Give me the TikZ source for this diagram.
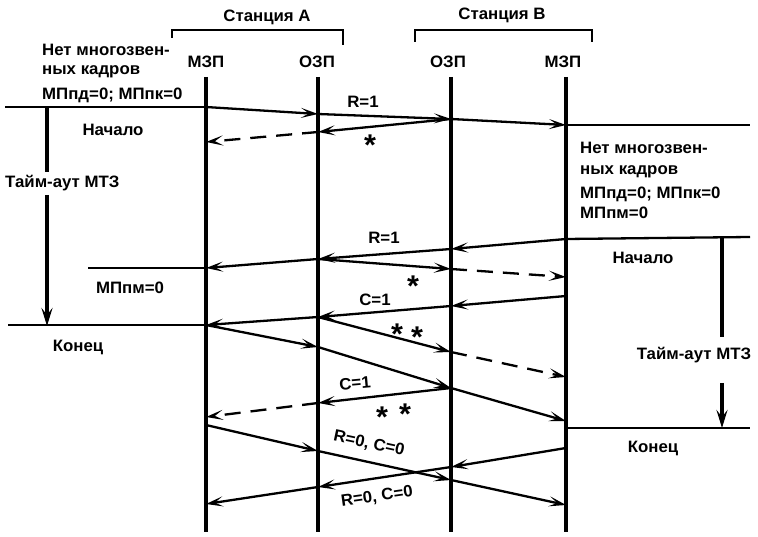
\documentclass[tikz,border=0pt]{standalone}
\usepackage{fontspec}
\setmainfont{Liberation Sans}[FakeStretch=1.02]
\usetikzlibrary{arrows.meta}
\tikzstyle{lane}=[black, line width=3.4pt]
\tikzstyle{wire}=[black, line width=2.3pt]
\tikzstyle{msg}=[wire, -{Stealth[length=17pt,width=10pt,inset=8pt]}]
\tikzstyle{lost}=[msg, dash pattern=on 16pt off 10pt]
\tikzstyle{lbl}=[font=\fontsize{16.5}{19}\selectfont\bfseries]
\tikzstyle{txt}=[lbl, anchor=west]
\tikzstyle{star}=[font=\fontsize{30}{30}\selectfont\bfseries]

\begin{document}
\begin{tikzpicture}[x=1pt,y=-1pt]
\tikzstyle{every node}+=[inner sep=0pt]
\fill [white] (0,0) rectangle (758,537);

\node [lbl] (stA) at (267,17) {Станция A};
\node [lbl] (stB) at (502,15) {Станция B};
\draw [wire] (172,38) -- (172,30) -- (343,30) -- (343,45);
\draw [wire] (415,42) -- (415,30) -- (592,30) -- (592,42);

\node [lbl] (aMzp) at (206,62) {МЗП};
\node [lbl] (aOzp) at (317,62) {ОЗП};
\node [lbl] (bOzp) at (448,62) {ОЗП};
\node [lbl] (bMzp) at (563,62) {МЗП};
\coordinate (aMt) at (206,77);
\coordinate (aMb) at (206,532);
\coordinate (aOt) at (318,77);
\coordinate (aOb) at (318,532);
\coordinate (bOt) at (451,77);
\coordinate (bOb) at (451,532);
\coordinate (bMt) at (566,77);
\coordinate (bMb) at (566,532);
\draw [lane] (aMt) -- (aMb);
\draw [lane] (aOt) -- (aOb);
\draw [lane] (bOt) -- (bOb);
\draw [lane] (bMt) -- (bMb);

\node [txt] (nl1) at (42,50) {Нет многозвен-};
\node [txt] (nl2) at (42,72) {ных кадров};
\node [txt] (nl3) at (42,95) {МПпд=0; МПпк=0};
\node [lbl] (lbeg) at (113,130) {Начало};
\node [txt] (ltmo) at (5,183) {Тайм-аут МТЗ};
\node [lbl] (lpm) at (130,288) {МПпм=0};
\node [lbl] (lend) at (78,347) {Конец};

\node [txt] (nr1) at (580,148) {Нет многозвен-};
\node [txt] (nr2) at (580,172) {ных кадров};
\node [txt] (nr3) at (580,194) {МПпд=0; МПпк=0};
\node [txt] (nr4) at (580,213) {МПпм=0};
\node [lbl] (rbeg) at (643,258) {Начало};
\node [lbl] (rtmo) at (694,355) {Тайм-аут МТЗ};
\node [lbl] (rend) at (653,448) {Конец};

\coordinate (lt0) at (47,107);
\coordinate (lt1) at (47,172);
\coordinate (lt2) at (47,195);
\coordinate (lt3) at (47,326);
\draw [lane] (lt0) -- (lt1);
\draw [lane, -{Stealth[length=18pt,width=11pt,inset=7pt]}] (lt2) -- (lt3);
\coordinate (rt0) at (722,238);
\coordinate (rt1) at (722,337);
\coordinate (rt2) at (722,383);
\coordinate (rt3) at (722,428);
\draw [lane] (rt0) -- (rt1);
\draw [lane, -{Stealth[length=18pt,width=11pt,inset=7pt]}] (rt2) -- (rt3);

\coordinate (s0) at (5,107);
\coordinate (s1) at (206,107);
\coordinate (s2) at (318,114);
\coordinate (s3) at (451,119);
\coordinate (s4) at (566,125);
\coordinate (s5) at (750,125);
\draw [wire] (s0) -- (s1);
\draw [msg] (s1) -- (s2);
\draw [msg] (s2) -- (s3);
\draw [msg] (s3) -- (s4);
\draw [wire] (s4) -- (s5);
\node [lbl] (r1a) at (363,102) {R=1};

\coordinate (u1) at (318,132);
\coordinate (u2) at (206,142);
\draw [msg] (s3) -- (u1);
\draw [lost] (u1) -- (u2);
\node [star] (x1) at (370,145) {*};

\coordinate (r0) at (750,237);
\coordinate (r1) at (566,239);
\coordinate (r2) at (451,249);
\coordinate (r3) at (318,259);
\coordinate (r4) at (206,268);
\coordinate (r5) at (88,268);
\draw [wire] (r0) -- (r1);
\draw [msg] (r1) -- (r2);
\draw [msg] (r2) -- (r3);
\draw [msg] (r3) -- (r4);
\draw [wire] (r4) -- (r5);
\node [lbl] (r1b) at (384,238) {R=1};

\coordinate (v1) at (451,269);
\coordinate (v2) at (566,277);
\draw [msg] (r3) -- (v1);
\draw [lost] (v1) -- (v2);
\node [star] (x2) at (413,286) {*};

\coordinate (c1) at (566,296);
\coordinate (c2) at (451,306);
\coordinate (c3) at (318,317);
\coordinate (c4) at (206,325);
\coordinate (c5) at (8,325);
\draw [msg] (c1) -- (c2);
\draw [msg] (c2) -- (c3);
\draw [msg] (c3) -- (c4);
\draw [wire] (c4) -- (c5);
\node [lbl] (c1a) at (375,300) {C=1};

\coordinate (w1) at (451,352);
\coordinate (w2) at (566,377);
\draw [msg] (c3) -- (w1);
\draw [lost] (w1) -- (w2);
\node [star] (x3) at (397,334) {*};
\node [star] (x4) at (417,337) {*};

\coordinate (d1) at (318,347);
\coordinate (d2) at (451,388);
\coordinate (d3) at (566,421);
\coordinate (d4) at (566,428);
\coordinate (d5) at (750,428);
\draw [msg] (c4) -- (d1);
\draw [msg] (d1) -- (d2);
\draw [msg] (d2) -- (d3);
\draw [wire] (d4) -- (d5);

\coordinate (e1) at (318,403);
\coordinate (e2) at (206,417);
\draw [msg] (d2) -- (e1);
\draw [lost] (e1) -- (e2);
\node [lbl, rotate=5] (c1b) at (355,383) {C=1};
\node [star] (x5) at (382,417) {*};
\node [star] (x6) at (405,414) {*};

\coordinate (f0) at (206,425);
\coordinate (f1) at (318,451);
\coordinate (f2) at (451,480);
\coordinate (f3) at (566,505);
\draw [msg] (f0) -- (f1);
\draw [msg] (f1) -- (f2);
\draw [msg] (f2) -- (f3);
\node [lbl, rotate=-12] (rc1) at (369,444) {R=0, C=0};

\coordinate (g0) at (566,448);
\coordinate (g1) at (451,467);
\coordinate (g2) at (318,487);
\coordinate (g3) at (206,504);
\draw [msg] (g0) -- (g1);
\draw [msg] (g1) -- (g2);
\draw [msg] (g2) -- (g3);
\node [lbl, rotate=8] (rc2) at (377,497) {R=0, C=0};
\end{tikzpicture}
\end{document}
